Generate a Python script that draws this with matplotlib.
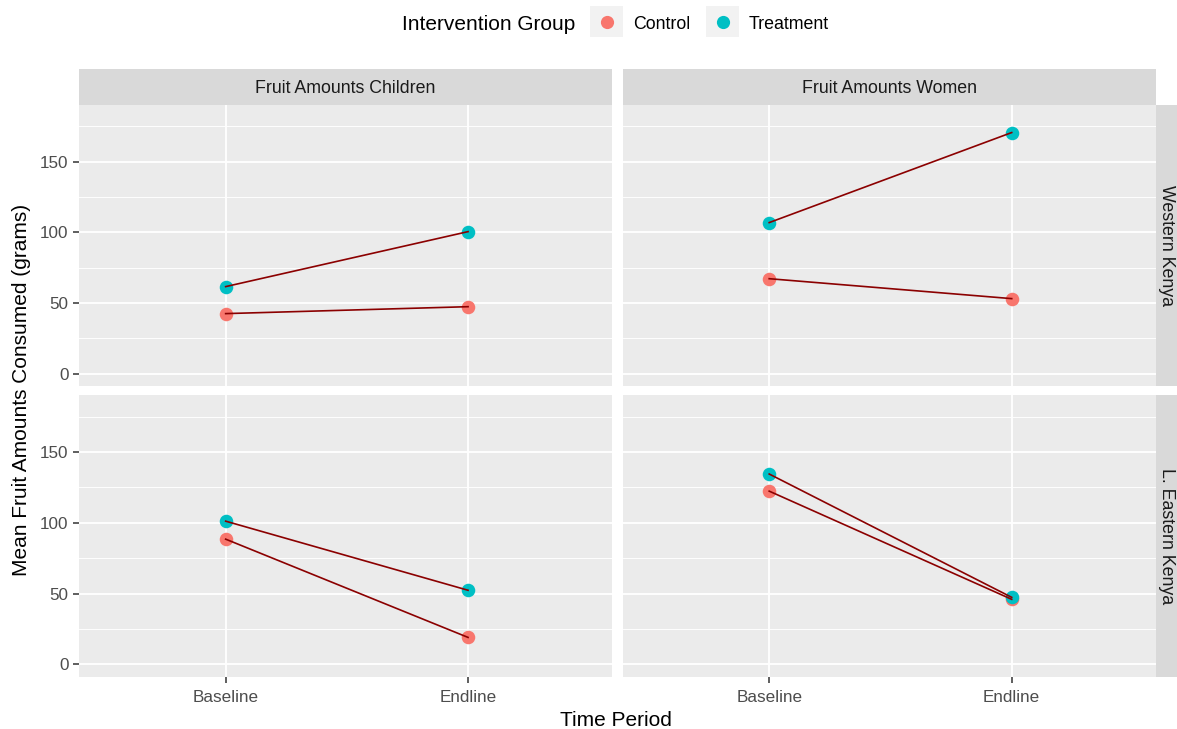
import matplotlib
matplotlib.use("Agg")
import matplotlib.pyplot as plt
from matplotlib.patches import Rectangle

plt.rcParams['font.family'] = ['Liberation Sans', 'DejaVu Sans']

# ---- data ----
periods = ["Baseline", "Endline"]
columns = ["Fruit Amounts Children", "Fruit Amounts Women"]
rows = ["Western Kenya", "L. Eastern Kenya"]
groups = ["Control", "Treatment"]
colors = {"Control": "#F8766D", "Treatment": "#00BFC4"}

western_children_control = [42.5, 47.4]
western_children_treatment = [61.6, 100.5]
western_women_control = [67.2, 53.1]
western_women_treatment = [106.9, 170.6]
eastern_children_control = [88.5, 19.1]
eastern_children_treatment = [101.2, 52.4]
eastern_women_control = [122.4, 46.0]
eastern_women_treatment = [134.5, 47.4]

values = [
    [{"Control": western_children_control, "Treatment": western_children_treatment},
     {"Control": western_women_control, "Treatment": western_women_treatment}],
    [{"Control": eastern_children_control, "Treatment": eastern_children_treatment},
     {"Control": eastern_women_control, "Treatment": eastern_women_treatment}],
]
y_ticks = [0, 50, 100, 150]
y_minor = [25, 75, 125, 175]

# ---- layout ----
W, H = 1177, 729
fig = plt.figure(figsize=(W / 100, H / 100), dpi=100)

def box(x0, y0, x1, y1):
    return [x0 / W, 1 - y1 / H, (x1 - x0) / W, (y1 - y0) / H]

col_x = [(79, 612.3), (622.5, 1156)]
row_y = [(104.7, 385.7), (395, 676.5)]
strip_top = 69
strip_right = 1177

ylim = (-8.5, 190.3)
xlim = (0.395, 2.595)

TICK_FS = 12.3
STRIP_FS = 12.8
TITLE_FS = 15

for r in range(2):
    for c in range(2):
        x0, x1 = col_x[c]
        y0, y1 = row_y[r]
        ax = fig.add_axes(box(x0, y0, x1, y1))
        ax.set_facecolor("#EBEBEB")
        for s in ax.spines.values():
            s.set_visible(False)
        ax.set_xlim(*xlim)
        ax.set_ylim(*ylim)
        ax.set_yticks(y_ticks)
        ax.set_yticks(y_minor, minor=True)
        ax.set_xticks([1, 2])
        ax.grid(True, which="major", color="white", linewidth=1.3)
        ax.grid(True, which="minor", axis="y", color="white", linewidth=0.65)
        ax.set_axisbelow(True)
        ax.tick_params(axis="both", which="major", length=4.5, width=1.1, color="#333333",
                       labelcolor="#4D4D4D", labelsize=TICK_FS, pad=3)
        ax.tick_params(axis="x", which="major", pad=5.5)
        ax.tick_params(axis="y", which="minor", length=0)
        if c == 0:
            ax.set_yticklabels([str(v) for v in y_ticks])
        else:
            ax.tick_params(axis="y", which="major", length=0, labelleft=False)
        if r == 1:
            ax.set_xticklabels(periods)
        else:
            ax.tick_params(axis="x", length=0, labelbottom=False)
        xs = [1, 2]
        for g in groups:
            ax.scatter(xs, values[r][c][g], s=95, color=colors[g], zorder=3, linewidths=0)
        for g in groups:
            ax.plot(xs, values[r][c][g], color="#8B0000", linewidth=1.2, zorder=4)

# top strips
for c in range(2):
    x0, x1 = col_x[c]
    sax = fig.add_axes(box(x0, strip_top, x1, row_y[0][0]))
    sax.set_facecolor("#D9D9D9")
    sax.set_xticks([]); sax.set_yticks([])
    for s in sax.spines.values():
        s.set_visible(False)
    sax.text(0.5, 0.44, columns[c], ha="center", va="center", fontsize=STRIP_FS,
             color="#1A1A1A", transform=sax.transAxes)

# right strips
for r in range(2):
    y0, y1 = row_y[r]
    sax = fig.add_axes(box(col_x[1][1], y0, strip_right, y1))
    sax.set_facecolor("#D9D9D9")
    sax.set_xticks([]); sax.set_yticks([])
    for s in sax.spines.values():
        s.set_visible(False)
    sax.text(0.5, 0.5, rows[r], ha="center", va="center", fontsize=STRIP_FS,
             color="#1A1A1A", rotation=-90, transform=sax.transAxes)

# axis titles
fig.text(616 / W, 1 - 721 / H, "Time Period", ha="center", va="center", fontsize=TITLE_FS, color="black")
fig.text(22 / W, 1 - 390 / H, "Mean Fruit Amounts Consumed (grams)", ha="center", va="center",
         rotation=90, fontsize=TITLE_FS, color="black")

# legend
fig.text(402 / W, 1 - 25 / H, "Intervention Group", ha="left", va="center", fontsize=TITLE_FS, color="black")
key_x = [(590, 623), (706, 739)]
label_x = [633, 749]
for g, (kx0, kx1), lx in zip(groups, key_x, label_x):
    fig.patches.append(Rectangle((kx0 / W, 1 - 37 / H), (kx1 - kx0) / W, 31 / H,
                                 transform=fig.transFigure, facecolor="#F2F2F2", edgecolor="none"))
    fig.add_artist(plt.Line2D([(kx0 + kx1) / 2 / W], [1 - 22 / H], marker="o", markersize=9.5,
                              color=colors[g], markeredgewidth=0, linestyle="none",
                              transform=fig.transFigure))
    fig.text(lx / W, 1 - 24.5 / H, g, ha="left", va="center", fontsize=STRIP_FS, color="black")

fig.savefig("out.png", dpi=100, facecolor="white")
